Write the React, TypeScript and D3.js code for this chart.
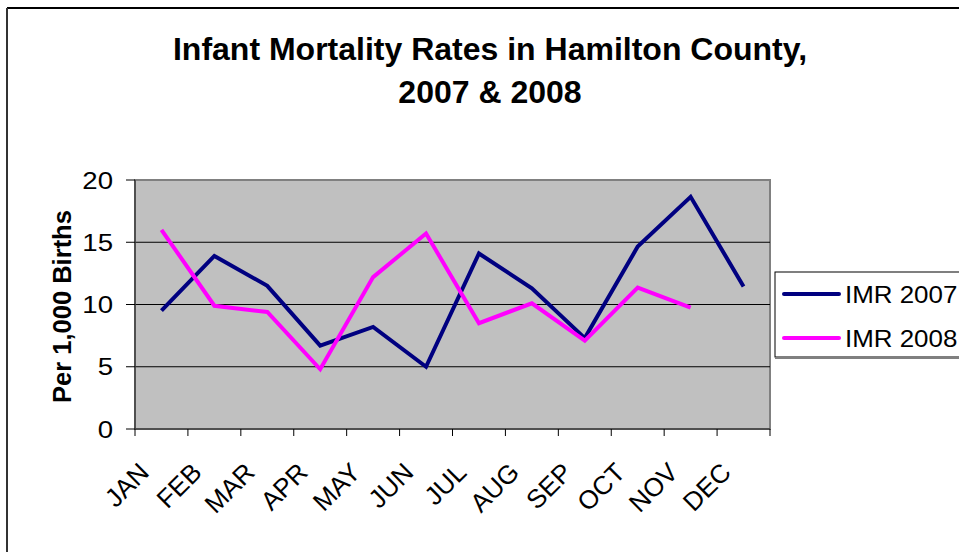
import React from "react";
import * as d3 from "d3";

const months = ["JAN", "FEB", "MAR", "APR", "MAY", "JUN", "JUL", "AUG", "SEP", "OCT", "NOV", "DEC"];
const imr2007 = [9.5, 13.9, 11.5, 6.7, 8.2, 5.0, 14.1, 11.3, 7.3, 14.65, 18.65, 11.45];
const imr2008 = [16.0, 9.9, 9.4, 4.8, 12.2, 15.7, 8.5, 10.1, 7.1, 11.35, 9.75];
const yTicks = [0, 5, 10, 15, 20];
const seriesNames = ["IMR 2007", "IMR 2008"];
const seriesColors = ["#000080", "#FF00FF"];

const W = 959;
const H = 552;
const plot = { left: 135, right: 770, top: 180, bottom: 429 };
const font = "'Liberation Sans', Arial, Helvetica, sans-serif";

export default function App() {
  const x = d3.scaleBand<string>().domain(months).range([plot.left, plot.right]).padding(0);
  const y = d3.scaleLinear().domain([0, 20]).range([plot.bottom, plot.top]);
  const cx = (m: string) => (x(m) as number) + x.bandwidth() / 2;

  const line = d3
    .line<number>()
    .x((_, i) => cx(months[i]))
    .y((d) => y(d));

  const series = [imr2007, imr2008];
  const boundaries = d3.range(months.length + 1).map((i) => plot.left + i * x.step());

  return (
    <svg
      width={W}
      height={H}
      style={{ position: "absolute", left: 0, top: 0, background: "#fff" }}
      fontFamily={font}
    >
      {/* outer frame */}
      <line x1={7} y1={8} x2={W} y2={8} stroke="#000" strokeWidth={2} />
      <line x1={7} y1={8} x2={7} y2={H} stroke="#333" strokeWidth={2} />

      {/* title */}
      <text x={490} y={60} textAnchor="middle" fontSize={32} fontWeight="bold">
        Infant Mortality Rates in Hamilton County,
      </text>
      <text x={490} y={103} textAnchor="middle" fontSize={32} fontWeight="bold">
        2007 &amp; 2008
      </text>

      {/* plot area */}
      <rect
        x={plot.left}
        y={plot.top}
        width={plot.right - plot.left}
        height={plot.bottom - plot.top}
        fill="#C0C0C0"
        stroke="#808080"
        strokeWidth={2}
      />
      {yTicks
        .filter((t) => t > 0 && t < 20)
        .map((t) => (
          <line key={t} x1={plot.left} x2={plot.right} y1={y(t)} y2={y(t)} stroke="#000" strokeWidth={1} />
        ))}

      {/* axes */}
      <line x1={plot.left} x2={plot.left} y1={plot.top} y2={plot.bottom} stroke="#404040" strokeWidth={1.5} />
      <line x1={plot.left} x2={plot.right} y1={plot.bottom} y2={plot.bottom} stroke="#404040" strokeWidth={1.5} />
      {yTicks.map((t) => (
        <g key={t}>
          <line x1={plot.left - 9} x2={plot.left} y1={y(t)} y2={y(t)} stroke="#000" strokeWidth={1} />
          <text
            transform={`translate(113,${y(t) + 8.5}) scale(1.15,1)`}
            textAnchor="end"
            fontSize={24}
          >
            {t}
          </text>
        </g>
      ))}
      {boundaries.map((b, i) => (
        <line key={i} x1={b} x2={b} y1={plot.bottom} y2={plot.bottom + 7} stroke="#000" strokeWidth={1} />
      ))}
      {months.map((m) => (
        <text
          key={m}
          transform={`translate(${cx(m) - 11},${474}) rotate(-45)`}
          textAnchor="end"
          fontSize={26}
        >
          {m}
        </text>
      ))}

      {/* y label */}
      <text
        transform={`translate(71,${(plot.top + plot.bottom) / 2 + 2}) rotate(-90)`}
        textAnchor="middle"
        fontSize={25.5}
        fontWeight="bold"
      >
        Per 1,000 Births
      </text>

      {/* series */}
      {series.map((s, i) => (
        <path
          key={i}
          d={line(s) as string}
          fill="none"
          stroke={seriesColors[i]}
          strokeWidth={4}
          strokeLinejoin="miter"
        />
      ))}

      {/* legend */}
      <rect x={775} y={272} width={200} height={85} fill="#fff" stroke="#000" strokeWidth={1} />
      <line x1={775} x2={W} y1={358} y2={358} stroke="#808080" strokeWidth={2} />
      {seriesNames.map((n, i) => (
        <g key={n} transform={`translate(0,${294 + i * 44})`}>
          <line x1={784} x2={839} y1={0} y2={0} stroke={seriesColors[i]} strokeWidth={4} strokeLinecap="round" />
          <text transform={`translate(845,9) scale(1.08,1)`} fontSize={24}>
            {n}
          </text>
        </g>
      ))}
    </svg>
  );
}
